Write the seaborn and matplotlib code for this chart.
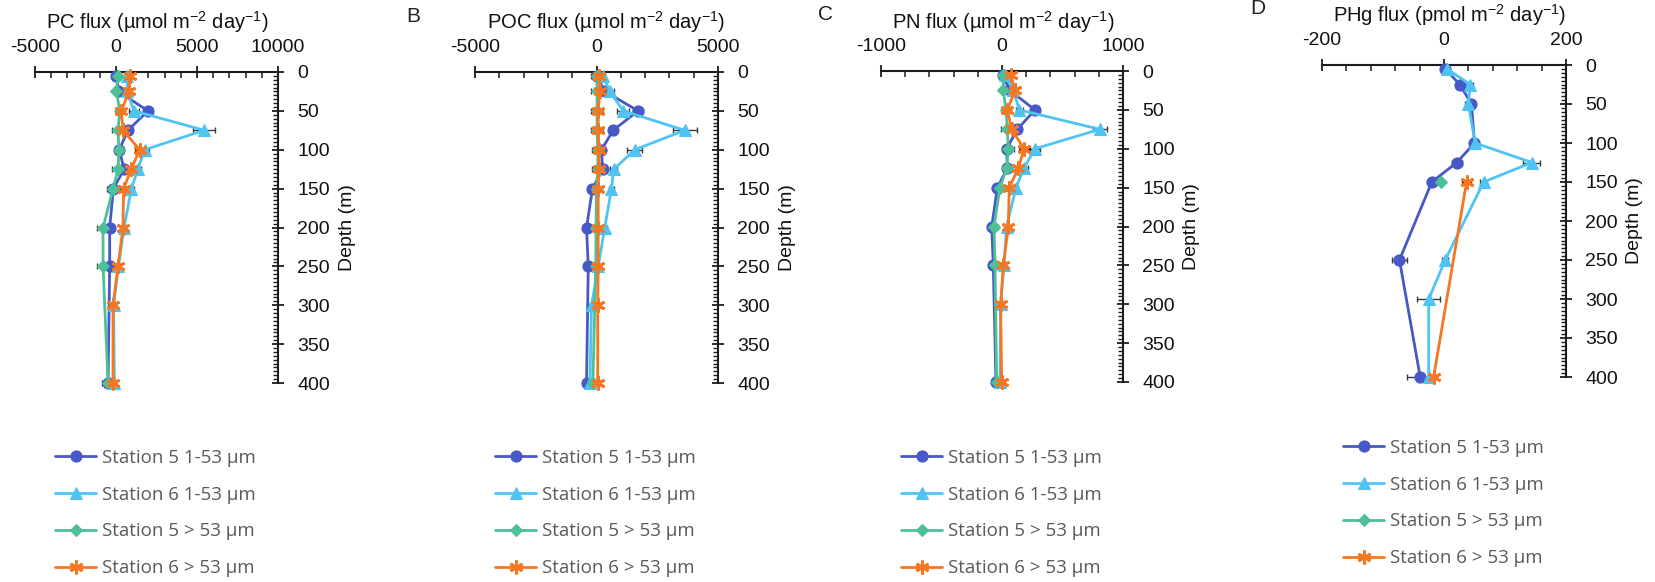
import numpy as np
import pandas as pd
import matplotlib
matplotlib.use("Agg")
import matplotlib.pyplot as plt
from matplotlib.ticker import MultipleLocator
from matplotlib.font_manager import FontProperties
import seaborn as sns

# ---------------- data ----------------
depth_s5 = [5, 25, 50, 75, 100, 125, 150, 200, 250, 400]
depth_s6 = [5, 25, 50, 75, 100, 125, 150, 200, 250, 300, 400]

# PC flux (umol m-2 day-1)
pc_s5_small = [25, 150, 1970, 740, 200, 500, -160, -390, -390, -490]
pc_s6_small = [700, 700, 1100, 5450, 1760, 1350, 950, 500, 150, -150, -100]
pc_s5_large = [125, 25, 230, 125, 185, 125, -180, -800, -800, -490]
pc_s6_large = [840, 800, 330, 430, 1460, 940, 470, 430, 125, -185, -185]
pc_s5_small_err = [50, 150, 250, 150, 100, 100, 100, 150, 150, 100]
pc_s6_small_err = [100, 150, 300, 670, 250, 200, 150, 100, 100, 100, 100]
pc_s5_large_err = [100, 100, 150, 350, 150, 350, 400, 400, 400, 350]
pc_s6_large_err = [150, 150, 150, 150, 300, 200, 150, 200, 150, 150, 150]

# POC flux (umol m-2 day-1)
poc_s5_small = [0, 350, 1710, 685, 205, 250, -165, -410, -340, -410]
poc_s6_small = [270, 550, 1100, 3630, 1575, 710, 615, 340, 70, -205, -270]
poc_s5_large = [20, 30, 20, 30, 50, 60, 0, -20, -30, -150]
poc_s6_large = [110, 140, 70, 70, 100, 100, 70, 70, 70, 50, 50]
poc_s5_small_err = [50, 100, 200, 150, 100, 100, 150, 100, 100, 100]
poc_s6_small_err = [100, 150, 250, 500, 300, 150, 100, 100, 100, 150, 100]
poc_s5_large_err = [250, 250, 250, 250, 250, 250, 200, 100, 100, 100]
poc_s6_large_err = [100, 100, 100, 100, 100, 100, 100, 100, 100, 100, 100]

# PN flux (umol m-2 day-1)
pn_s5_small = [5, 65, 272, 127, 38, 44, -38, -85, -72, -50]
pn_s6_small = [25, 94, 143, 809, 272, 182, 116, 38, 16, -11, -16]
pn_s5_large = [11, 11, 33, 44, 52, 38, -17, -66, -58, -44]
pn_s6_large = [72, 107, 44, 80, 182, 135, 60, 52, 11, -11, -3]
pn_s5_small_err = [10, 20, 30, 30, 20, 20, 20, 20, 20, 20]
pn_s6_small_err = [10, 20, 30, 60, 40, 30, 20, 20, 20, 20, 20]
pn_s5_large_err = [15, 15, 20, 50, 50, 30, 30, 30, 30, 30]
pn_s6_large_err = [15, 20, 20, 20, 40, 30, 20, 20, 20, 20, 20]

# PHg flux (pmol m-2 day-1)
phg_depth_s5_small = [5, 25, 50, 100, 125, 150, 250, 400]
phg_s5_small = [2, 26, 45, 50, 21, -20, -73, -39]
phg_s5_small_err = [3, 6, 5, 5, 8, 6, 12, 22]
phg_depth_s6_small = [5, 25, 50, 100, 125, 150, 250, 300, 400]
phg_s6_small = [5, 43, 40, 51, 144, 65, 2, -25, -25]
phg_s6_small_err = [3, 5, 5, 6, 14, 6, 5, 19, 14]
phg_depth_s5_large = [150]
phg_s5_large = [-5]
phg_s5_large_err = [3]
phg_depth_s6_large = [150, 400]
phg_s6_large = [37, -17]
phg_s6_large_err = [7, 6]

series_labels = ["Station 5 1-53 µm", "Station 6 1-53 µm",
                 "Station 5 > 53 µm", "Station 6 > 53 µm"]
series_colors = ["#4659C6", "#4FC4F2", "#4EC098", "#F7761F"]

panel_titles = ["PC flux (µmol m$^{\\mathregular{-2}}$ day$^{\\mathregular{-1}}$)",
                "POC flux (µmol m$^{\\mathregular{-2}}$ day$^{\\mathregular{-1}}$)",
                "PN flux (µmol m$^{\\mathregular{-2}}$ day$^{\\mathregular{-1}}$)",
                "PHg flux (pmol m$^{\\mathregular{-2}}$ day$^{\\mathregular{-1}}$)"]
panel_letters = ["", "B", "C", "D"]
x_limits = [(-5000, 10000), (-5000, 5000), (-1000, 1000), (-200, 200)]
x_major = [5000, 5000, 1000, 200]
x_minor = [1000, 1000, 200, 40]

panels = [
    [(depth_s5, pc_s5_small, pc_s5_small_err), (depth_s6, pc_s6_small, pc_s6_small_err),
     (depth_s5, pc_s5_large, pc_s5_large_err), (depth_s6, pc_s6_large, pc_s6_large_err)],
    [(depth_s5, poc_s5_small, poc_s5_small_err), (depth_s6, poc_s6_small, poc_s6_small_err),
     (depth_s5, poc_s5_large, poc_s5_large_err), (depth_s6, poc_s6_large, poc_s6_large_err)],
    [(depth_s5, pn_s5_small, pn_s5_small_err), (depth_s6, pn_s6_small, pn_s6_small_err),
     (depth_s5, pn_s5_large, pn_s5_large_err), (depth_s6, pn_s6_large, pn_s6_large_err)],
    [(phg_depth_s5_small, phg_s5_small, phg_s5_small_err),
     (phg_depth_s6_small, phg_s6_small, phg_s6_small_err),
     (phg_depth_s5_large, phg_s5_large, phg_s5_large_err),
     (phg_depth_s6_large, phg_s6_large, phg_s6_large_err)],
]

# ---------------- style ----------------
sns.set_style("white")
plt.rcParams["font.family"] = ["Liberation Sans", "DejaVu Sans"]
plt.rcParams["axes.unicode_minus"] = False
plt.rcParams["mathtext.fontset"] = "custom"
plt.rcParams["mathtext.rm"] = "Liberation Sans"
plt.rcParams["mathtext.it"] = "Liberation Sans:italic"
plt.rcParams["mathtext.bf"] = "Liberation Sans:bold"

W, H = 1656, 582
fig = plt.figure(figsize=(W / 100, H / 100), dpi=100)
fig.patch.set_facecolor("white")

def fig_box(x0, y0, x1, y1):
    return [x0 / W, 1 - y1 / H, (x1 - x0) / W, (y1 - y0) / H]

axes_px = [(35, 72, 278, 383), (475, 72, 718, 383),
           (881, 71, 1123, 382), (1322, 65, 1566, 377)]
title_pos = [(157, 22), (606, 22), (1003, 22), (1450, 15)]
letter_pos = [(0, 0), (413, 16), (826, 14), (1258, 8)]
legend_pos = [(55, 449), (495, 449), (901, 449), (1343, 439)]

marker_styles = [
    dict(marker="o", markersize=8),
    dict(marker="^", markersize=9),
    dict(marker="D", markersize=6),
    dict(marker=(6, 2, 0), markersize=10, markeredgewidth=2.0),
]

AX_COLOR = "#1c1c1c"

for i, series in enumerate(panels):
    ax = fig.add_axes(fig_box(*axes_px[i]))
    ax.set_facecolor("white")

    for j, (depths, values, errs) in enumerate(series):
        df = pd.DataFrame({"flux": values, "depth": depths})
        ax.errorbar(values, depths, xerr=errs, fmt="none", ecolor="#3a3a3a",
                    elinewidth=1.0, capsize=2.5, capthick=1.0, zorder=2,
                    clip_on=False)
        style = dict(marker_styles[j])
        style.setdefault("markeredgewidth", 0.8)
        sns.lineplot(data=df, x="flux", y="depth", orient="y", sort=True,
                     estimator=None, errorbar=None, ax=ax,
                     color=series_colors[j], linewidth=2.0,
                     markeredgecolor=series_colors[j],
                     markerfacecolor=series_colors[j],
                     label=series_labels[j], legend=False,
                     clip_on=False, zorder=3 + j, **style)

    ax.set_xlim(*x_limits[i])
    ax.set_ylim(400, 0)
    ax.xaxis.set_major_locator(MultipleLocator(x_major[i]))
    ax.xaxis.set_minor_locator(MultipleLocator(x_minor[i]))
    ax.yaxis.set_major_locator(MultipleLocator(50))
    ax.yaxis.set_minor_locator(MultipleLocator(5))

    for side in ["left", "bottom"]:
        ax.spines[side].set_visible(False)
    for side in ["top", "right"]:
        ax.spines[side].set_visible(True)
        ax.spines[side].set_color(AX_COLOR)
        ax.spines[side].set_linewidth(1.5)

    ax.xaxis.tick_top()
    ax.yaxis.tick_right()
    ax.tick_params(axis="x", which="major", direction="inout", length=8,
                   width=1.3, color=AX_COLOR, pad=7.5, labelsize=14,
                   labelcolor="#111111", top=True, bottom=False)
    ax.tick_params(axis="x", which="minor", direction="in", length=4,
                   width=1.1, color=AX_COLOR, top=True, bottom=False)
    ax.tick_params(axis="y", which="major", direction="inout", length=8,
                   width=1.3, color=AX_COLOR, pad=10, labelsize=14,
                   labelcolor="#111111", right=True, left=False)
    ax.tick_params(axis="y", which="minor", direction="in", length=3.5,
                   width=1.0, color=AX_COLOR, right=True, left=False)
    ax.grid(False)

    ax.set_xlabel("")
    ax.yaxis.set_label_position("right")
    ax.set_ylabel("Depth (m)", fontsize=14, color="#111111", rotation=90,
                  va="center", ha="center")
    x0, y0, x1, y1 = axes_px[i]
    ax.yaxis.set_label_coords((x1 + 69 - x0) / (x1 - x0), 0.5)

    tx, ty = title_pos[i]
    fig.text(tx / W, 1 - ty / H, panel_titles[i], ha="center", va="center",
             fontsize=14.5, color="#111111")
    if panel_letters[i]:
        lx, ly = letter_pos[i]
        fig.text(lx / W, 1 - ly / H, panel_letters[i], ha="center",
                 va="center", fontsize=15, color="#222222")

    handles, labels = ax.get_legend_handles_labels()
    lgx, lgy = legend_pos[i]
    ax.legend(handles, labels, loc="upper left",
              bbox_to_anchor=(lgx / W, 1 - lgy / H),
              bbox_transform=fig.transFigure, frameon=False, borderpad=0,
              borderaxespad=0, handlelength=2.2, handletextpad=0.3,
              labelspacing=1.0,
              prop=FontProperties(family="Open Sans", size=13.5),
              labelcolor="#5a5a5a")

fig.savefig("out.png", dpi=100, facecolor="white")
